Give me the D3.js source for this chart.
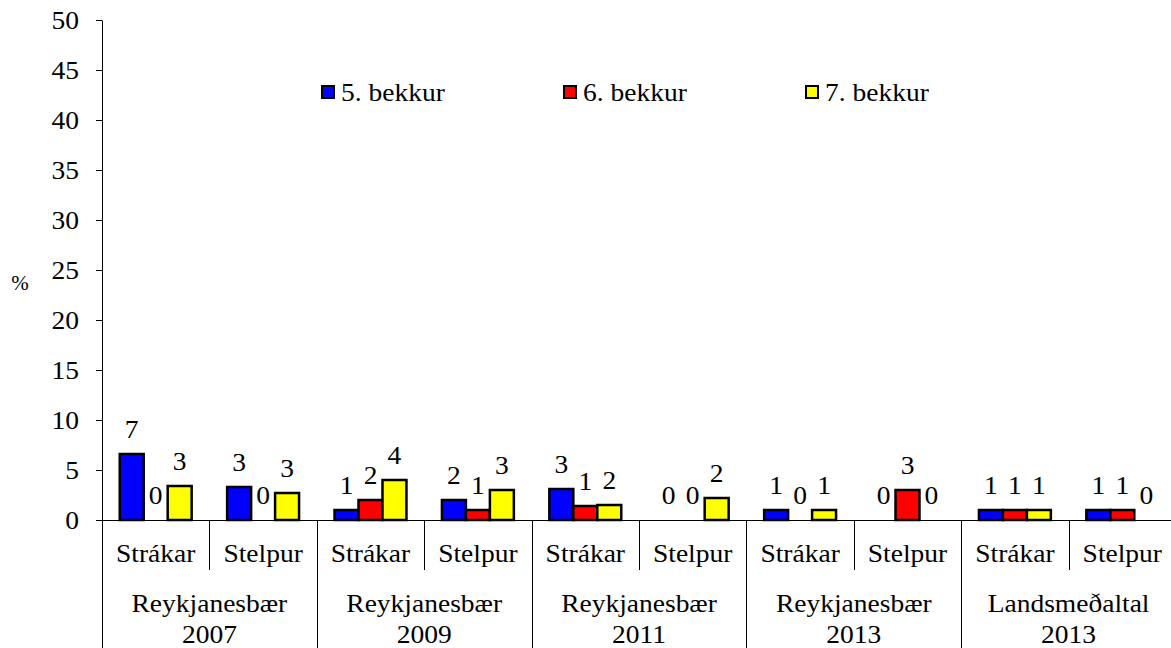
<!DOCTYPE html>
<html>
<head>
<meta charset="utf-8">
<script src="https://cdn.jsdelivr.net/npm/d3@7"></script>
<style>
  body { margin: 0; background: #fff; }
  svg text { font-family: 'Liberation Serif', 'Times New Roman', serif; fill: #000; }
</style>
</head>
<body>
<div class="canvas"></div>
<script>
// chart data
const groups = [['Reykjanesbær', '2007'], ['Reykjanesbær', '2009'], ['Reykjanesbær', '2011'], ['Reykjanesbær', '2013'], ['Landsmeðaltal', '2013']]
const subgroups = ['Strákar', 'Stelpur']
const series = ['5. bekkur', '6. bekkur', '7. bekkur']
const bekkur5 = [6.6, 3.3, 1.0, 2.0, 3.1, 0, 1.0, 0, 1.0, 1.0]
const bekkur6 = [0, 0, 2.0, 1.0, 1.4, 0, 0, 3.0, 1.0, 1.0]
const bekkur7 = [3.4, 2.7, 4.0, 3.0, 1.5, 2.2, 1.0, 0, 1.0, 0]
const yTicks = [0, 5, 10, 15, 20, 25, 30, 35, 40, 45, 50]
const colors = ['#0000ff', '#ff0000', '#ffff00']

// dimensions
const dimensions = {
  width: 1171,
  height: 648,
  margin: { top: 20, right: -5, bottom: 128, left: 102 },
}
const graphWidth = dimensions.width - dimensions.margin.left - dimensions.margin.right
const graphHeight = dimensions.height - dimensions.margin.top - dimensions.margin.bottom
const fontSize = 25

// the original text is slightly wider than Times, so stretch it a bit
const stretch = (sel) => {
  sel.each(function () {
    const t = d3.select(this)
    const tx = +t.attr('x') || 0
    const ty = +t.attr('y') || 0
    t.attr('x', 0).attr('y', 0).attr('transform', `translate(${tx}, ${ty}) scale(1.1, 1)`)
  })
}

const svg = d3
  .select('.canvas')
  .append('svg')
  .attr('width', dimensions.width)
  .attr('height', dimensions.height)

const graph = svg
  .append('g')
  .attr('transform', `translate(${dimensions.margin.left}, ${dimensions.margin.top})`)

// flat list of categories
const categories = []
groups.forEach((g, gi) => {
  subgroups.forEach((s, si) => {
    categories.push({ id: `${gi}-${si}`, group: gi, sub: s })
  })
})
const allSeries = [bekkur5, bekkur6, bekkur7]
const rows = []
categories.forEach((c, i) => {
  series.forEach((s, k) => {
    rows.push({ cat: c.id, series: s, k, value: allSeries[k][i] })
  })
})

// scales
const x = d3.scaleBand().domain(categories.map((c) => c.id)).range([0, graphWidth]).padding(0)
const xInner = d3.scaleBand().domain(series).range([0, x.bandwidth()]).paddingInner(0).paddingOuter(0.74)
const y = d3.scaleLinear().domain([0, 50]).range([graphHeight, 0])
const xGroup = d3.scaleBand().domain(d3.range(groups.length)).range([0, graphWidth])

// y axis
const yAxis = d3.axisLeft(y).tickValues(yTicks).tickSize(6).tickPadding(17).tickSizeOuter(0)
const yAxisGroup = graph.append('g').call(yAxis).attr('font-size', fontSize)
yAxisGroup.selectAll('line, path').attr('stroke', '#000').attr('stroke-width', 1)
yAxisGroup.selectAll('text').attr('dy', '0.34em').call(stretch)

svg
  .append('text')
  .attr('x', 20)
  .attr('y', 290)
  .attr('text-anchor', 'middle')
  .attr('font-size', 21)
  .text('%')

// x axis baseline
graph
  .append('line')
  .attr('x1', 0)
  .attr('x2', graphWidth)
  .attr('y1', graphHeight + 0.5)
  .attr('y2', graphHeight + 0.5)
  .attr('stroke', '#000')

// sub dividers (short) and group dividers (long)
categories.forEach((c, i) => {
  const xPos = Math.round(x(c.id)) + 0.5
  const long = i % 2 === 0
  graph
    .append('line')
    .attr('x1', xPos)
    .attr('x2', xPos)
    .attr('y1', graphHeight)
    .attr('y2', long ? dimensions.height : graphHeight + 50)
    .attr('stroke', '#000')
})

// category labels
graph
  .selectAll('.sub-label')
  .data(categories)
  .enter()
  .append('text')
  .attr('class', 'sub-label')
  .attr('x', (d) => x(d.id) + x.bandwidth() / 2)
  .attr('y', graphHeight + 42)
  .attr('text-anchor', 'middle')
  .attr('font-size', fontSize)
  .text((d) => d.sub)
  .call(stretch)

// group labels, two lines each
;[0, 1].forEach((line) => {
  graph
    .selectAll(`.group-label-${line}`)
    .data(groups)
    .enter()
    .append('text')
    .attr('class', `group-label-${line}`)
    .attr('x', (d, i) => xGroup(i) + xGroup.bandwidth() / 2)
    .attr('y', graphHeight + (line === 0 ? 92 : 123))
    .attr('text-anchor', 'middle')
    .attr('font-size', fontSize)
    .text((d) => d[line])
    .call(stretch)
})

// bars
graph
  .selectAll('rect.bar')
  .data(rows.filter((d) => d.value > 0))
  .enter()
  .append('rect')
  .attr('class', 'bar')
  .attr('x', (d) => x(d.cat) + xInner(d.series))
  .attr('y', (d) => y(d.value))
  .attr('width', xInner.bandwidth())
  .attr('height', (d) => graphHeight - y(d.value))
  .attr('fill', (d) => colors[d.k])
  .attr('stroke', '#000')
  .attr('stroke-width', 2.5)

// value labels
graph
  .selectAll('text.val')
  .data(rows)
  .enter()
  .append('text')
  .attr('class', 'val')
  .attr('x', (d) => x(d.cat) + xInner(d.series) + xInner.bandwidth() / 2)
  .attr('y', (d) => y(d.value) - 16)
  .attr('text-anchor', 'middle')
  .attr('font-size', fontSize)
  .text((d) => Math.round(d.value))
  .call(stretch)

// legend
const xLegend = d3.scaleBand().domain(series).range([219, 945])
const legend = graph
  .selectAll('.legend')
  .data(series)
  .enter()
  .append('g')
  .attr('class', 'legend')
  .attr('transform', (d) => `translate(${xLegend(d)}, 66)`)
legend
  .append('rect')
  .attr('x', 1)
  .attr('y', 0)
  .attr('width', 12)
  .attr('height', 12)
  .attr('fill', (d, i) => colors[i])
  .attr('stroke', '#000')
  .attr('stroke-width', 2)
legend
  .append('text')
  .attr('x', 20)
  .attr('y', 15)
  .attr('font-size', fontSize)
  .text((d) => d)
  .call(stretch)
</script>
</body>
</html>
